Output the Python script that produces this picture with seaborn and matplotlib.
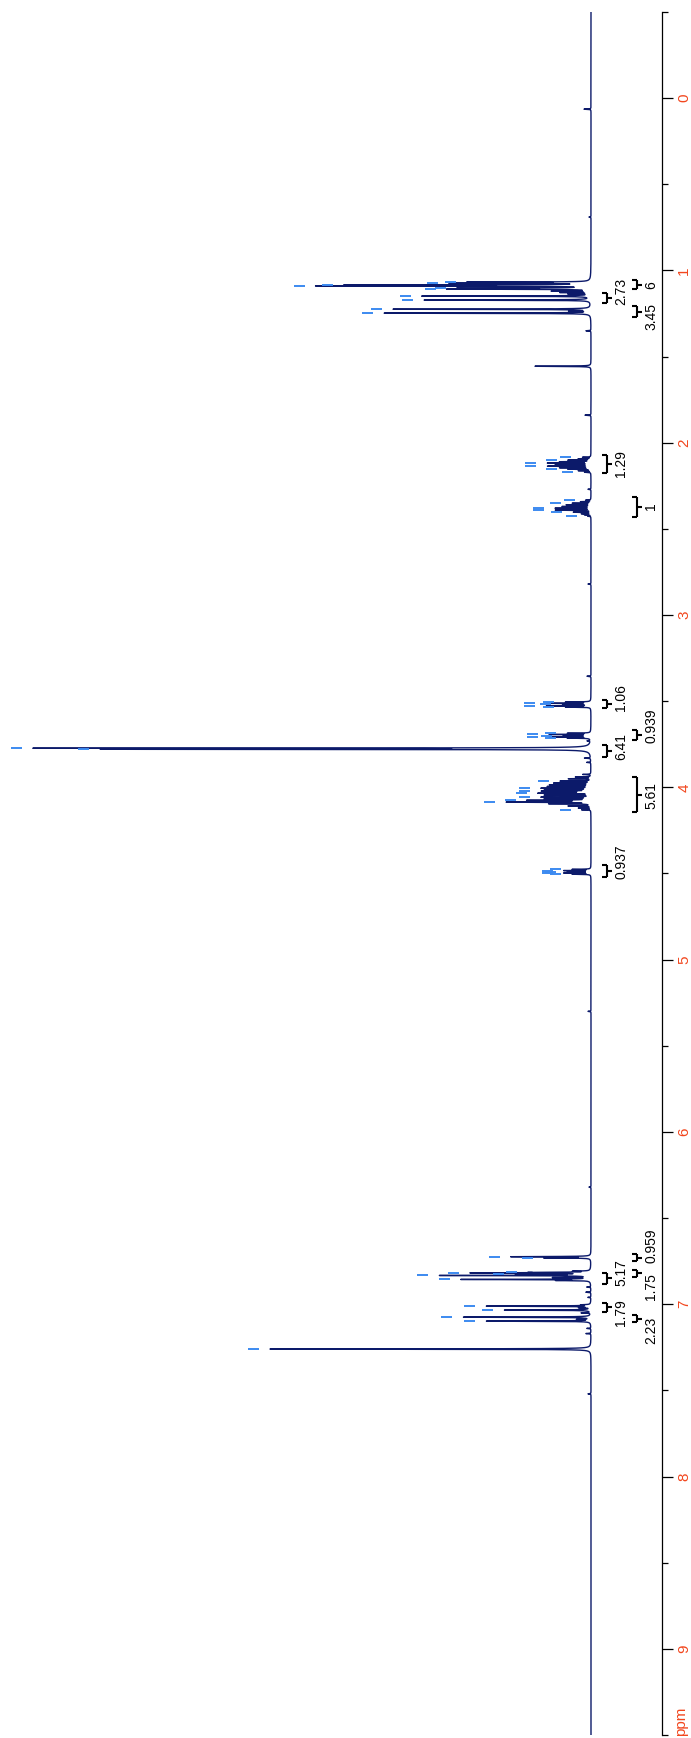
import numpy as np
import pandas as pd
import matplotlib
matplotlib.use("Agg")
import matplotlib.pyplot as plt
import seaborn as sns

# ---- peak list (chemical shift in ppm, height in intensity units) ----
# peaks that carry a peak-pick marker
picked_ppm = [
    1.068, 1.074, 1.085, 1.090, 1.103, 1.108,
    1.149, 1.172,
    1.225, 1.248,
    2.084, 2.101, 2.118, 2.136, 2.153, 2.171,
    2.333, 2.351, 2.380, 2.391, 2.403, 2.426,
    3.505, 3.512, 3.519, 3.527, 3.534,
    3.686, 3.693, 3.700, 3.707, 3.714,
    3.773, 3.779,
    3.964, 4.005, 4.022, 4.034, 4.057, 4.075, 4.086, 4.130,
    4.476, 4.483, 4.490, 4.497, 4.504,
    6.724, 6.731,
    6.815, 6.818, 6.826, 6.833, 6.856,
    7.011, 7.034, 7.075, 7.098,
    7.260,
]
picked_height = [
    117, 133, 230, 260, 123, 135,
    168, 166,
    197, 206,
    8, 22, 42, 42, 22, 6,
    5, 18, 35, 35, 17, 3,
    24, 43, 26, 43, 24,
    22, 40, 25, 40, 22,
    540, 470,
    30, 48, 46, 50, 48, 60, 80, 9,
    18, 26, 22, 26, 18,
    79, 45,
    45, 112, 68, 148, 128,
    104, 86, 127, 104,
    321,
]
# remaining lines and small bumps without a marker
other_ppm = [
    0.064, 0.690, 1.120, 1.128, 1.136, 1.236, 1.350, 1.556, 1.840,
    2.093, 2.110, 2.127, 2.145, 2.162,
    2.270, 2.342, 2.360, 2.370, 2.412, 2.418, 2.820,
    3.355, 3.730, 3.830, 3.855,
    3.925, 3.940, 3.950, 3.975, 3.985, 3.995, 4.014, 4.028, 4.045,
    4.066, 4.081, 4.095, 4.108, 4.120,
    5.300, 6.320, 6.808, 6.845, 6.862, 6.900, 6.930, 6.960,
    7.003, 7.020, 7.050, 7.088, 7.140, 7.170, 7.520,
]
other_height = [
    7, 2, 36, 28, 20, 18, 5, 56, 6,
    12, 30, 34, 30, 12,
    3, 10, 24, 28, 9, 6, 3,
    4, 3, 6, 4,
    8, 15, 22, 36, 40, 42, 44, 42, 45,
    44, 55, 40, 22, 12,
    3, 2, 15, 35, 30, 4, 5, 3,
    8, 10, 9, 12, 4, 5, 3,
]

# ---- integrals ----
integral_start = [1.056, 1.133, 1.207, 2.072, 2.316, 3.494, 3.668, 3.755,
                  3.940, 4.452, 6.710, 6.820, 6.800, 6.990, 7.063]
integral_end = [1.109, 1.190, 1.271, 2.176, 2.432, 3.540, 3.726, 3.825,
                4.144, 4.520, 6.750, 6.880, 6.840, 7.046, 7.104]
integral_value = ["6", "2.73", "3.45", "1.29", "1", "1.06", "0.939", "6.41",
                  "5.61", "0.937", "0.959", "5.17", "1.75", "1.79", "2.23"]
integral_row = [1, 0, 1, 0, 1, 0, 1, 0, 1, 0, 1, 0, 1, 0, 1]
integral_label_ppm = [1.083, 1.120, 1.265, 2.120, 2.370, 3.480, 3.640, 3.766,
                      4.050, 4.430, 6.663, 6.814, 6.900, 7.050, 7.150]

tick_ppm = [0, 1, 2, 3, 4, 5, 6, 7, 8, 9]
tick_text = ["0", "1", "2", "3", "4", "5", "6", "7", "8", "9"]

# ---- style ----
sns.set_theme(style="white")
plt.rcParams["font.family"] = ["Liberation Sans", "DejaVu Sans"]

LINE = "#0c1a6a"
PICK = "#3c8af0"
AXIS_TXT = "#f2461d"

# ---- spectrum as a sum of Lorentzian lines ----
ppm_axis = np.linspace(-0.5, 9.5, 50001)
gamma = 0.0012
centers = np.array(picked_ppm + other_ppm)
heights = np.array(picked_height + other_height, dtype=float)
curve = np.zeros_like(ppm_axis)
for c, h in zip(centers, heights):
    curve += h / (1.0 + ((ppm_axis - c) / gamma) ** 2)

spec = pd.DataFrame({"intensity": curve, "ppm": ppm_axis})

fig = plt.figure(figsize=(6.91, 17.38), dpi=100)
ax = fig.add_axes([0, 3 / 1738, 662 / 691, 1723 / 1738])

sns.lineplot(data=spec, x="intensity", y="ppm", sort=False, estimator=None,
             orient="y", color=LINE, linewidth=1.0, ax=ax)

# peak-pick markers, a short dash just beyond each picked line top
for p in picked_ppm:
    top = np.interp(p, ppm_axis, curve)
    ax.plot([top + 11, top + 22], [p, p], color=PICK, lw=1.4,
            solid_capstyle="butt")

# integral brackets with their values
row_x = [-16, -46]
label_x = [-30, -60]
for s, e, v, r, lp in zip(integral_start, integral_end, integral_value,
                          integral_row, integral_label_ppm):
    x0 = row_x[r]
    m = 0.5 * (s + e)
    kw = dict(color="black", lw=1.5, solid_capstyle="butt", clip_on=False)
    ax.plot([x0, x0], [s, e], **kw)
    ax.plot([x0 + 5, x0], [s, s], **kw)
    ax.plot([x0 + 5, x0], [e, e], **kw)
    ax.plot([x0, x0 - 5], [m, m], **kw)
    ax.text(label_x[r], lp, v, rotation=90, ha="center", va="center",
            fontsize=10, color="black")

ax.set_xlim(591, -71)
ax.set_ylim(9.5, -0.5)

# ppm scale on the right
for side in ["top", "left", "bottom"]:
    ax.spines[side].set_visible(False)
ax.spines["right"].set_visible(True)
ax.spines["right"].set_color("black")
ax.spines["right"].set_linewidth(0.9)
ax.set_xticks([])
ax.set_xlabel("")
ax.set_ylabel("")
ax.yaxis.tick_right()
ax.set_yticks(tick_ppm)
ax.set_yticks(np.arange(-0.5, 9.51, 0.5), minor=True)
ax.set_yticklabels(tick_text, rotation=90, va="center")
ax.tick_params(axis="y", which="major", direction="out", length=8, width=0.9,
               color="black", labelcolor=AXIS_TXT, labelsize=11, pad=3,
               right=True, left=False)
ax.tick_params(axis="y", which="minor", direction="out", length=4, width=0.9,
               color="black", right=True, left=False)
ax.text(-90, 9.42, "ppm", rotation=90, ha="center", va="center",
        fontsize=11, color=AXIS_TXT, clip_on=False)

fig.savefig("out.png", dpi=100, facecolor="white")
